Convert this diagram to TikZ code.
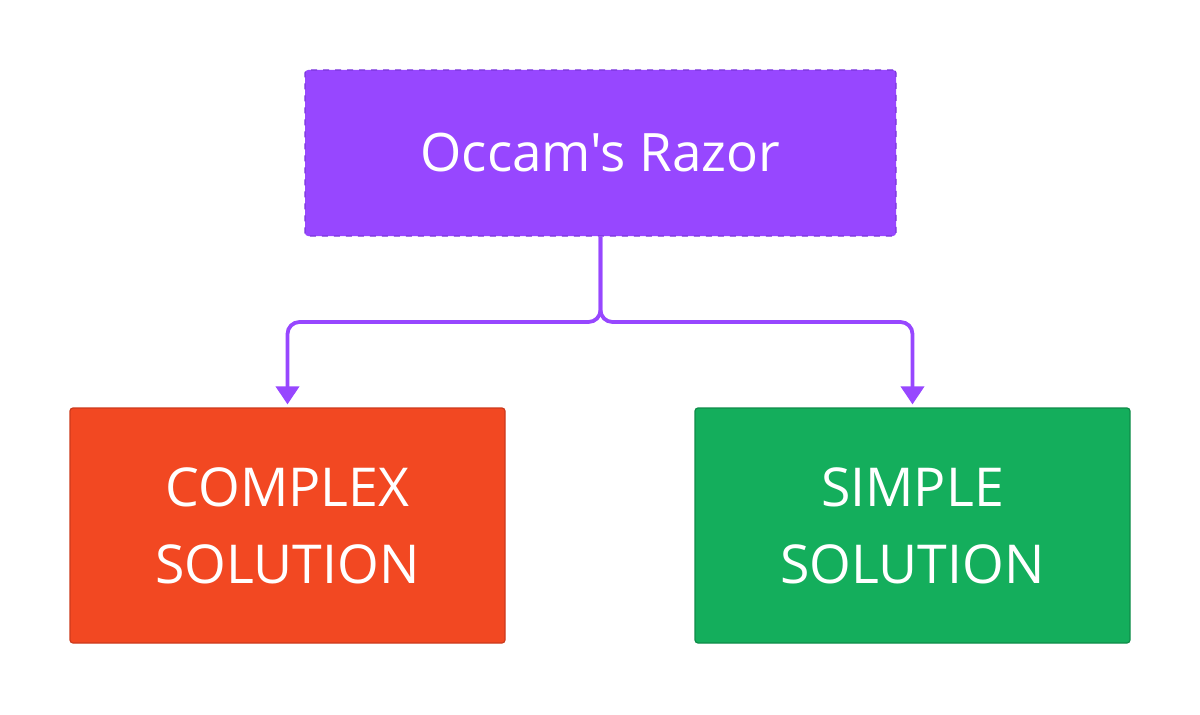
\documentclass[tikz,border=0pt]{standalone}
\usepackage{fontspec}
\setmainfont{Open Sans}
\newfontfamily\razorfont{Open Sans}
\usetikzlibrary{arrows.meta}
\definecolor{razorpurple}{HTML}{9747FF}
\definecolor{razoredge}{HTML}{7A35DB}
\definecolor{complexred}{HTML}{F24822}
\definecolor{complexedge}{HTML}{CC3A1C}
\definecolor{simplegreen}{HTML}{14AE5C}
\definecolor{simpleedge}{HTML}{0F8C49}
\tikzset{
  box/.style={rectangle, rounded corners=1.5pt, line width=0.6pt, text=white,
    align=center, inner sep=0pt},
  conn/.style={razorpurple, line width=1.9pt, rounded corners=6pt,
    -{Triangle[width=11.5pt,length=9pt]}}
}
\begin{document}
\begin{tikzpicture}[x=1pt,y=1pt]
  \useasboundingbox (0,0) rectangle (600,357);
  % idee de depart
  \node[box, fill=razorpurple, draw=razoredge, dashed,
    minimum width=295.5pt, minimum height=83pt,
    font=\razorfont\fontsize{26.5}{32}\selectfont]
    (razor) at (300.25,280.5) {Occam's Razor};
  % solution compliquee
  \node[box, fill=complexred, draw=complexedge,
    minimum width=217.5pt, minimum height=117.5pt, font=\fontsize{26.8}{38.5}\selectfont]
    (complex) at (143.75,94.25) {COMPLEX\\SOLUTION};
  % solution simple
  \node[box, fill=simplegreen, draw=simpleedge,
    minimum width=217.5pt, minimum height=117.5pt, font=\fontsize{26.8}{38.5}\selectfont]
    (simple) at (456.25,94.25) {SIMPLE\\SOLUTION};
  % embranchement
  \coordinate (fork) at (razor.south |- 0,196);
  \draw[conn] (razor.south) -- (fork) -| ([yshift=1.5pt]complex.north);
  \draw[conn] (razor.south) -- (fork) -| ([yshift=1.5pt]simple.north);
\end{tikzpicture}
\end{document}
